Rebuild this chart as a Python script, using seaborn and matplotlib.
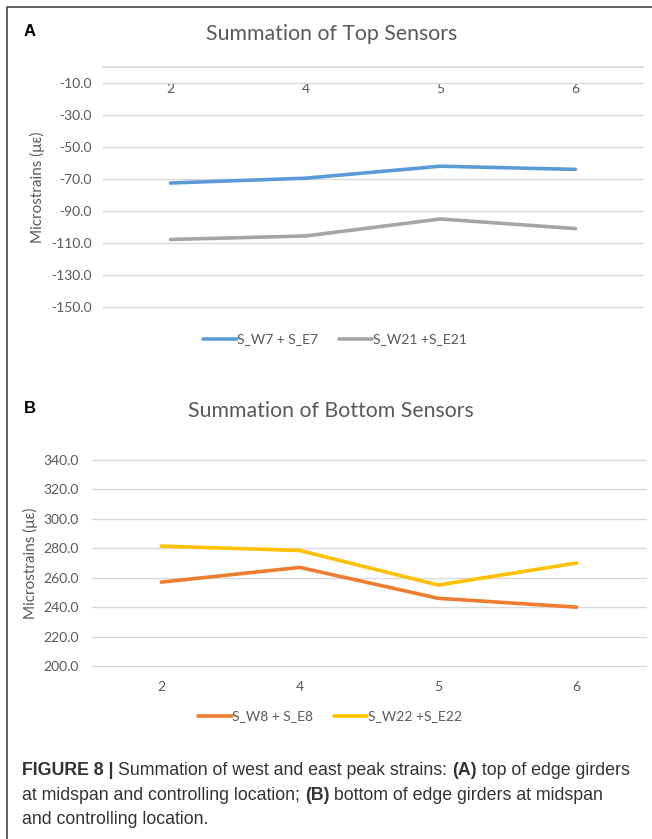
import numpy as np
import pandas as pd
import matplotlib
matplotlib.use("Agg")
import matplotlib.pyplot as plt
import seaborn as sns
from matplotlib.lines import Line2D

# Data
locations = ["2", "4", "5", "6"]

top_labels = ["S_W7 + S_E7", "S_W21 +S_E21"]
top_w7_e7 = [-72.5, -69.5, -62.0, -64.0]
top_w21_e21 = [-107.8, -105.6, -95.0, -101.0]

bottom_labels = ["S_W8 + S_E8", "S_W22 +S_E22"]
bottom_w8_e8 = [257.0, 267.0, 246.0, 240.0]
bottom_w22_e22 = [281.5, 278.5, 255.0, 270.0]

top_ticks = [-10, -30, -50, -70, -90, -110, -130, -150]
bottom_ticks = [340, 320, 300, 280, 260, 240, 220, 200]

caption_lines = [
    [("FIGURE 8 | ", "bold"), ("Summation of west and east peak strains: ", "normal"),
     ("(A)", "bold"), (" top of edge girders", "normal")],
    [("at midspan and controlling location; ", "normal"), ("(B)", "bold"),
     (" bottom of edge girders at midspan", "normal")],
    [("and controlling location.", "normal")],
]

sns.set_theme(style="white")
plt.rcParams['font.family'] = ['Lato', 'DejaVu Sans']
plt.rcParams['axes.unicode_minus'] = False

W, H = 652, 839
fig = plt.figure(figsize=(W / 100, H / 100), dpi=100)
fig.patch.set_facecolor("white")

text_col = "#595959"
grid_col = "#D9D9D9"


def px(x0, y_top, x1, y_bot):
    return [x0 / W, 1 - y_bot / H, (x1 - x0) / W, (y_bot - y_top) / H]


def long_df(labels, series):
    rows = []
    for lab, vals in zip(labels, series):
        for loc, v in zip(locations, vals):
            rows.append({"Location": loc, "Series": lab, "Strain": v})
    return pd.DataFrame(rows)


def style_axes(ax, ticks, ypad):
    ax.set_yticks(ticks)
    ax.set_yticklabels([f"{t:.1f}" for t in ticks])
    ax.grid(axis="y", color=grid_col, linewidth=1.0)
    ax.grid(axis="x", visible=False)
    for g in ax.get_ygridlines():
        g.set_clip_on(False)
    for s in ax.spines.values():
        s.set_visible(False)
    ax.tick_params(axis="y", length=0, labelsize=10, labelcolor=text_col, pad=ypad)
    ax.tick_params(axis="x", length=0, labelsize=10, labelcolor=text_col)
    ax.set_xlim(-0.5, 3.5)
    ax.set_xlabel("")
    ax.set_ylabel("Microstrains (\u03bc\u03b5)", color=text_col, fontsize=11)


def add_legend(ax, colors, labels, y):
    handles = [Line2D([], [], color=c, lw=2.6) for c in colors]
    ax.legend(handles=handles, labels=labels, loc="center", bbox_to_anchor=(0.43, y), ncol=2,
              frameon=False, fontsize=10, handlelength=2.4, handletextpad=0.05,
              columnspacing=1.5, labelcolor=text_col)


# Panel A
ax1 = fig.add_axes(px(103, 67, 643, 307))
dfa = long_df(top_labels, [top_w7_e7, top_w21_e21])
sns.lineplot(data=dfa, x="Location", y="Strain", hue="Series", sort=False,
             palette=["#5B9BD5", "#A5A5A5"], linewidth=2.6, ax=ax1, legend=False)
ax1.set_ylim(-150, 0)
style_axes(ax1, top_ticks, 8)
ax1.spines["top"].set_visible(True)
ax1.spines["top"].set_color(grid_col)
ax1.xaxis.set_ticks_position("top")
ax1.tick_params(axis="x", top=True, labeltop=True, bottom=False, labelbottom=False, pad=-20)
ax1.yaxis.set_label_coords(-0.107, 0.5)
add_legend(ax1, ["#5B9BD5", "#A5A5A5"], top_labels, -0.135)

# Panel B
ax2 = fig.add_axes(px(92, 460, 646, 666))
dfb = long_df(bottom_labels, [bottom_w8_e8, bottom_w22_e22])
sns.lineplot(data=dfb, x="Location", y="Strain", hue="Series", sort=False,
             palette=["#ED7D31", "#FFC000"], linewidth=2.6, ax=ax2, legend=False)
ax2.set_ylim(200, 340)
style_axes(ax2, bottom_ticks, 9.5)
ax2.tick_params(axis="x", pad=11)
ax2.yaxis.set_label_coords(-0.097, 0.5)
add_legend(ax2, ["#ED7D31", "#FFC000"], bottom_labels, -0.245)

# titles and panel letters
fig.text(332 / W, 1 - 34 / H, "Summation of Top Sensors", ha="center", va="center",
         fontsize=15.3, color=text_col)
fig.text(331 / W, 1 - 411 / H, "Summation of Bottom Sensors", ha="center", va="center",
         fontsize=15.3, color=text_col)
fig.text(24 / W, 1 - 32 / H, "A", ha="left", va="center", fontsize=12, fontweight="bold",
         family="Liberation Sans", color="black")
fig.text(24 / W, 1 - 408 / H, "B", ha="left", va="center", fontsize=12, fontweight="bold",
         family="Liberation Sans", color="black")

# border lines at left and top
fig.add_artist(Line2D([7 / W, 7 / W, 1], [0, 1 - 7 / H, 1 - 7 / H], transform=fig.transFigure,
                      color="#555555", lw=1.3))

# caption with mixed bold / normal runs
fig.canvas.draw()
renderer = fig.canvas.get_renderer()
baselines = [775, 800, 824]
for line, yb in zip(caption_lines, baselines):
    x = 22
    for txt, weight in line:
        t = fig.text(x / W, 1 - yb / H, txt, ha="left", va="baseline", fontsize=12.8,
                     fontweight=weight, family="Liberation Sans", color="#333333")
        bb = t.get_window_extent(renderer=renderer)
        x += bb.width

fig.savefig("out.png", dpi=100)
